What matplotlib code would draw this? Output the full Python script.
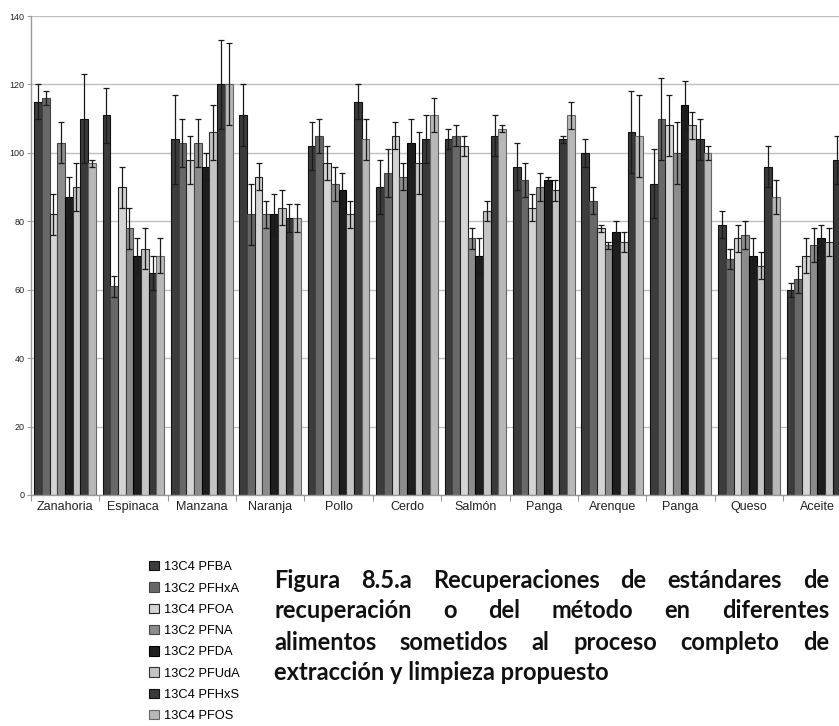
import matplotlib

matplotlib.use("Agg")
import matplotlib.pyplot as plt
import numpy as np

W, H = 839, 726

categories = ["Zanahoria", "Espinaca", "Manzana", "Naranja", "Pollo", "Cerdo",
              "Salmón", "Panga", "Arenque", "Panga", "Queso", "Aceite"]
series = ["13C4 PFBA", "13C2 PFHxA", "13C4 PFOA", "13C2 PFNA",
          "13C2 PFDA", "13C2 PFUdA", "13C4 PFHxS", "13C4 PFOS"]

pfba = [115, 111, 104, 111, 102, 90, 104, 96, 100, 91, 79, 60]
pfba_err = [5, 8, 13, 9, 7, 8, 3, 7, 4, 10, 4, 2]
pfhxa = [116, 61, 103, 82, 105, 94, 105, 92, 86, 110, 69, 63]
pfhxa_err = [2, 3, 7, 9, 5, 7, 3, 5, 4, 12, 3, 4]
pfoa = [82, 90, 98, 93, 97, 105, 102, 84, 78, 108, 75, 70]
pfoa_err = [6, 6, 7, 4, 5, 4, 3, 4, 1, 9, 4, 5]
pfna = [103, 78, 103, 82, 91, 93, 75, 90, 73, 100, 76, 73]
pfna_err = [6, 6, 7, 4, 5, 4, 3, 4, 1, 9, 4, 5]
pfda = [87, 70, 96, 82, 89, 103, 70, 92, 77, 114, 70, 75]
pfda_err = [6, 5, 4, 6, 5, 7, 5, 1, 3, 7, 5, 4]
pfuda = [90, 72, 106, 84, 82, 97, 83, 89, 74, 108, 67, 74]
pfuda_err = [7, 6, 8, 5, 4, 9, 3, 3, 3, 4, 4, 4]
pfhxs = [110, 65, 120, 81, 115, 104, 105, 104, 106, 104, 96, 98]
pfhxs_err = [13, 5, 13, 4, 5, 7, 6, 1, 12, 6, 6, 7]
pfos = [97, 70, 120, 81, 104, 111, 107, 111, 105, 100, 87, 80]
pfos_err = [1, 5, 12, 4, 6, 5, 1, 4, 12, 2, 5, 5]

values = [pfba, pfhxa, pfoa, pfna, pfda, pfuda, pfhxs, pfos]
errors = [pfba_err, pfhxa_err, pfoa_err, pfna_err, pfda_err, pfuda_err, pfhxs_err, pfos_err]

fills = ["#3c3c3c", "#686868", "#d4d4d4", "#8c8c8c", "#1e1e1e", "#c4c4c4", "#3a3a3a", "#b8b8b8"]
edges = ["#111111", "#444444", "#222222", "#444444", "#000000", "#333333", "#111111", "#666666"]

caption_lines = [
    "Figura 8.5.a Recuperaciones de estándares de",
    "recuperación o del método en diferentes",
    "alimentos sometidos al proceso completo de",
    "extracción y limpieza propuesto",
]

plt.rcParams["font.family"] = ["Liberation Sans", "DejaVu Sans"]

fig = plt.figure(figsize=(W / 100, H / 100), dpi=100)
# plot area runs past the right edge, as in the cropped reference
ax = fig.add_axes([30.7 / W, 1 - 495 / H, 821 / W, 479 / H])

n = len(series)
bw = 0.9 / n
x0 = np.arange(len(categories)) + 0.05
handles = []
for j in range(n):
    xs = x0 + j * bw
    b = ax.bar(xs, values[j], width=bw, align="edge", color=fills[j],
               edgecolor=edges[j], linewidth=0.8, zorder=2, label=series[j])
    ax.errorbar(xs + bw / 2, values[j], yerr=errors[j], fmt="none",
                ecolor="#1a1a1a", elinewidth=0.9, capsize=2.2, capthick=0.9, zorder=3)
    handles.append(b)

ax.set_xlim(0, len(categories))
ax.set_ylim(0, 140)
ax.set_yticks(np.arange(0, 141, 20))
ax.yaxis.grid(True, color="#c0c0c0", linewidth=1.0, zorder=0)
ax.set_axisbelow(True)

ax.set_xticks(np.arange(0, len(categories) + 1))
ax.set_xticklabels([])
ax.set_xticks(np.arange(len(categories)) + 0.5, minor=True)
ax.set_xticklabels(categories, minor=True, fontsize=9, color="#222222")
ax.tick_params(axis="x", which="major", length=4, color="#999999", direction="out")
ax.tick_params(axis="x", which="minor", length=0, pad=4)
ax.tick_params(axis="y", length=3, color="#999999", direction="out",
               labelsize=6.5, pad=1.5, labelcolor="#222222")

for s in ["top", "right"]:
    ax.spines[s].set_visible(False)
for s in ["left", "bottom"]:
    ax.spines[s].set_color("#999999")
    ax.spines[s].set_linewidth(1.0)

fig.legend(handles=handles, labels=series, loc="upper left",
           bbox_to_anchor=(149 / W, 1 - 561 / H), frameon=False,
           fontsize=9.3, handlelength=0.75, handleheight=0.75,
           handletextpad=0.4, labelspacing=0.7, borderpad=0, borderaxespad=0)

# justified caption block
cx0, cx1 = 274, 829
line_y = [580, 611, 642, 673]
renderer = fig.canvas.get_renderer()
cap_kw = dict(family=["Lato", "DejaVu Sans"], weight="bold", fontsize=17,
              color="#111111", va="center", ha="left")
for k, line in enumerate(caption_lines):
    y = 1 - line_y[k] / H
    words = line.split(" ")
    if k == len(caption_lines) - 1:
        fig.text(cx0 / W, y, line, **cap_kw)
        continue
    texts = [fig.text(0, y, w, **cap_kw) for w in words]
    widths = [t.get_window_extent(renderer).width for t in texts]
    gap = (cx1 - cx0 - sum(widths)) / (len(words) - 1)
    x = cx0
    for t, w in zip(texts, widths):
        t.set_x(x / W)
        x += w + gap

fig.savefig("out.png", dpi=100)
